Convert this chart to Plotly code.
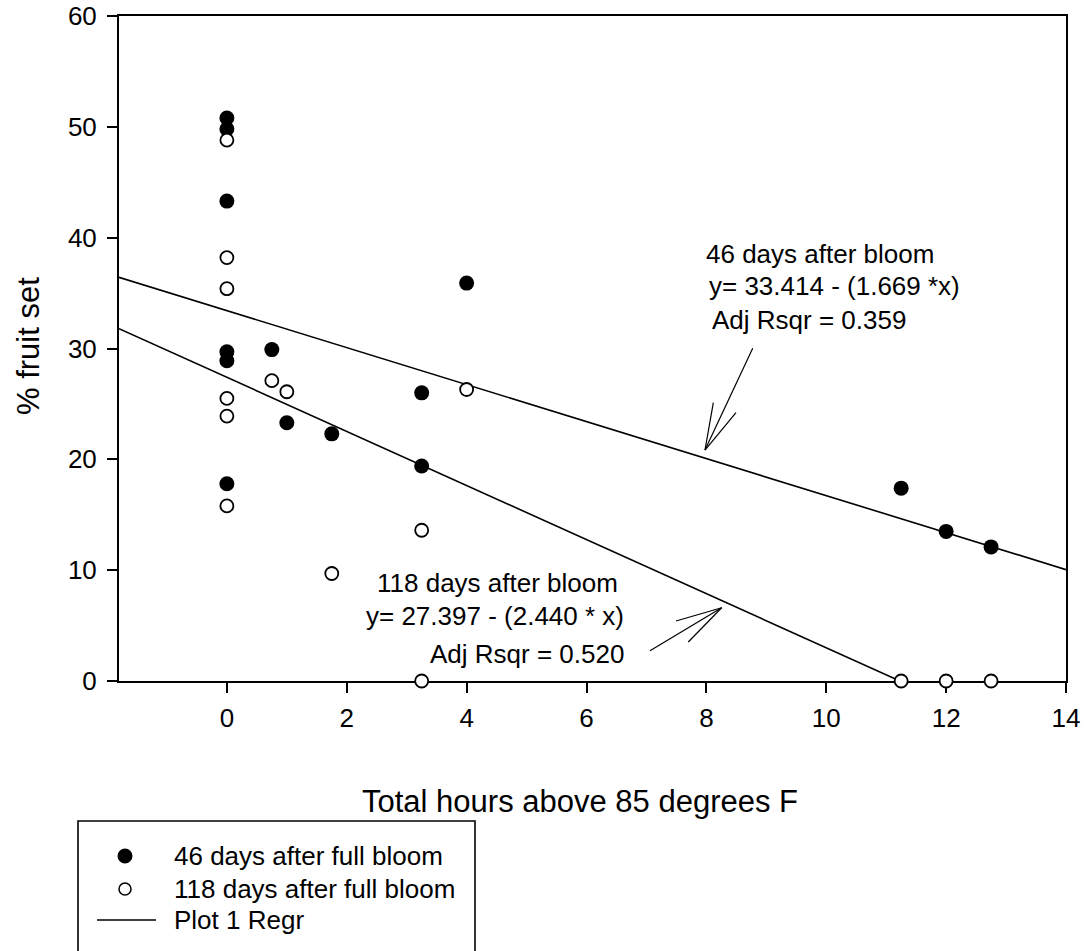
import plotly.graph_objects as go

# ---------------- data ----------------
x_46 = [0, 0, 0, 0, 0, 0, 0.75, 1.0, 1.75, 3.25, 3.25, 4.0, 11.25, 12.0, 12.75]
y_46 = [50.8, 49.8, 43.3, 29.7, 28.9, 17.8, 29.9, 23.3, 22.3, 26.0, 19.4, 35.9, 17.4, 13.5, 12.1]

x_118 = [0, 0, 0, 0, 0, 0, 0.75, 1.0, 1.75, 3.25, 3.25, 4.0, 11.25, 12.0, 12.75]
y_118 = [48.8, 38.2, 35.4, 25.5, 23.9, 15.8, 27.1, 26.1, 9.7, 13.6, 0.0, 26.3, 0.0, 0.0, 0.0]

series_names = ["46 days after full bloom", "118 days after full bloom"]
regr_name = "Plot 1 Regr"
regr_intercept = [33.414, 27.397]
regr_slope = [-1.669, -2.440]
regr_x_start = [-1.8, -1.8]
regr_x_end = [14.0, 11.228]

x_ticks = [0, 2, 4, 6, 8, 10, 12, 14]
y_ticks = [0, 10, 20, 30, 40, 50, 60]
x_title = "Total hours above 85 degrees F"
y_title = "% fruit set"

ann_46 = ["46 days after bloom", "y= 33.414 - (1.669 *x)", "Adj Rsqr = 0.359"]
ann_118 = ["118 days after bloom", "y= 27.397 - (2.440 * x)", "Adj Rsqr = 0.520"]

FONT = "Arial, 'Liberation Sans', Helvetica, sans-serif"

# ---------------- layout geometry ----------------
# body margin is removed by post_script, so the figure starts at screen pixel (0, 0)
W, H = 1084, 951
ML, MR, MT, MB = 119, 18, 16, 270
PW, PH = W - ML - MR, H - MT - MB


def px_x(p):
    """screen pixel x -> paper fraction"""
    return (p - ML) / PW


def px_y(p):
    """screen pixel y -> paper fraction"""
    return (H - MB - p) / PH


fig = go.Figure()

# regression lines
for i in range(2):
    xs = [regr_x_start[i], regr_x_end[i]]
    ys = [regr_intercept[i] + regr_slope[i] * v for v in xs]
    fig.add_trace(go.Scatter(
        x=xs, y=ys, mode="lines", name=regr_name,
        line=dict(color="black", width=1.6), showlegend=False,
    ))

fig.add_trace(go.Scatter(
    x=x_46, y=y_46, mode="markers", name=series_names[0],
    marker=dict(symbol="circle", size=15, color="black",
                line=dict(color="black", width=0)),
    cliponaxis=False, showlegend=False,
))
fig.add_trace(go.Scatter(
    x=x_118, y=y_118, mode="markers", name=series_names[1],
    marker=dict(symbol="circle", size=13, color="white",
                line=dict(color="black", width=1.8)),
    cliponaxis=False, showlegend=False,
))

axis_common = dict(
    showgrid=False, zeroline=False, showline=True, linecolor="black",
    linewidth=2, mirror=True, ticks="outside", ticklen=10, tickwidth=2,
    tickcolor="black", tickfont=dict(family=FONT, size=26, color="black"),
    layer="below traces", automargin=False, ticklabeloverflow="allow",
)
fig.update_xaxes(range=[-1.8, 14], tickvals=x_ticks,
                 ticktext=[str(v) for v in x_ticks], ticklabelstandoff=3, **axis_common)
fig.update_yaxes(range=[0, 60], tickvals=y_ticks,
                 ticktext=[str(v) for v in y_ticks], ticklabelstandoff=5, **axis_common)

annotations = []
# axis titles
annotations.append(dict(text=x_title, xref="paper", yref="paper", x=px_x(580), y=px_y(801),
                        xanchor="center", yanchor="middle", showarrow=False,
                        font=dict(family=FONT, size=31, color="black")))
annotations.append(dict(text=y_title, xref="paper", yref="paper", x=px_x(28), y=px_y(346),
                        xanchor="center", yanchor="middle", showarrow=False, textangle=-90,
                        font=dict(family=FONT, size=31, color="black")))
# regression annotations
for txt, xx, yy in zip(ann_46, [7.96, 8.01, 8.06], [38.57, 35.60, 32.57]):
    annotations.append(dict(text=txt, x=xx, y=yy, xref="x", yref="y", xanchor="left",
                            yanchor="middle", showarrow=False,
                            font=dict(family=FONT, size=26, color="black")))
for txt, xx, yy in zip(ann_118, [6.567, 6.659, 6.659], [8.84, 5.86, 2.44]):
    annotations.append(dict(text=txt, x=xx, y=yy, xref="x", yref="y", xanchor="right",
                            yanchor="middle", showarrow=False,
                            font=dict(family=FONT, size=26, color="black")))

shapes = []
arrow_lines = [
    # arrow for 46 days (shaft + two barbs)
    (8.773, 30.02, 7.977, 20.84),
    (8.116, 25.11, 7.977, 20.84),
    (8.494, 24.21, 7.977, 20.84),
    # arrow for 118 days
    (7.059, 2.73, 8.255, 6.61),
    (7.493, 5.41, 8.255, 6.61),
    (7.698, 3.52, 8.255, 6.61),
]
for x0, y0, x1, y1 in arrow_lines:
    shapes.append(dict(type="line", xref="x", yref="y", x0=x0, y0=y0, x1=x1, y1=y1,
                       line=dict(color="black", width=1.2)))

# ---------------- manual legend ----------------
shapes.append(dict(type="rect", xref="paper", yref="paper",
                   x0=px_x(78), x1=px_x(475), y0=px_y(821), y1=px_y(975),
                   line=dict(color="black", width=1.6), fillcolor="rgba(0,0,0,0)"))
# filled marker
shapes.append(dict(type="circle", xref="paper", yref="paper",
                   x0=px_x(117.5), x1=px_x(132.5), y0=px_y(848.5), y1=px_y(863.5),
                   line=dict(color="black", width=0), fillcolor="black"))
# open marker
shapes.append(dict(type="circle", xref="paper", yref="paper",
                   x0=px_x(119), x1=px_x(131), y0=px_y(883), y1=px_y(895),
                   line=dict(color="black", width=1.5), fillcolor="white"))
# line symbol
shapes.append(dict(type="line", xref="paper", yref="paper",
                   x0=px_x(97), x1=px_x(156), y0=px_y(920), y1=px_y(920),
                   line=dict(color="black", width=1.6)))
for txt, cy in zip(series_names + [regr_name], [855.5, 888.5, 920]):
    annotations.append(dict(text=txt, xref="paper", yref="paper", x=px_x(172), y=px_y(cy),
                            xanchor="left", yanchor="middle", showarrow=False,
                            font=dict(family=FONT, size=26, color="black")))

fig.update_layout(
    width=W, height=H,
    margin=dict(l=ML, r=MR, t=MT, b=MB, autoexpand=False),
    paper_bgcolor="white", plot_bgcolor="white",
    font=dict(family=FONT, color="black"),
    annotations=annotations, shapes=shapes,
    showlegend=False,
)

fig.write_html(
    "out.html",
    config={"displayModeBar": False},
    post_script="document.body.style.margin='0px';document.body.style.overflow='hidden';",
)
